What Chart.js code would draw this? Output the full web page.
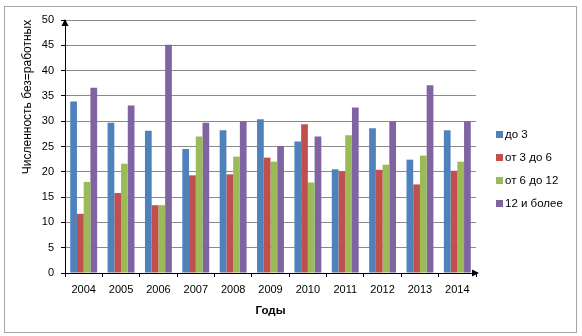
<!DOCTYPE html>
<html><head><meta charset="utf-8">
<script src="https://cdn.jsdelivr.net/npm/chart.js@4/dist/chart.umd.min.js"></script>
<style>
html,body{margin:0;padding:0;background:#fff;}
#wrap{position:relative;width:582px;height:336px;overflow:hidden;}
#frame{position:absolute;left:4px;top:6px;width:573px;height:327px;border:1px solid #a6a6a6;box-sizing:border-box;}
canvas{position:absolute;left:0;top:0;}
#ytitle{position:absolute;left:-73px;top:90px;width:200px;height:14px;line-height:14px;text-align:center;transform:rotate(-90deg);font:12px 'Liberation Sans',Arial,sans-serif;color:#000;white-space:nowrap;}
#legend{position:absolute;left:496px;top:127px;font:11.5px 'Liberation Sans',Arial,sans-serif;color:#000;}
#legend div{height:23px;line-height:14px;white-space:nowrap;}
#legend span.sw{display:inline-block;width:7px;height:7px;margin-right:2px;vertical-align:0px;}
</style>
</head><body>
<div id="wrap">
<div id="frame"></div>
<canvas id="c" width="582" height="336"></canvas>
<div id="ytitle">Численность без=работных</div>
<div id="legend"></div>
</div>
<script>
const years = ['2004','2005','2006','2007','2008','2009','2010','2011','2012','2013','2014'];
const seriesNames = ['до 3','от 3 до 6','от 6 до 12','12 и более'];
const do3    = [33.9,29.7,28.1,24.5,28.2,30.4,26.0,20.5,28.6,22.4,28.2];
const ot3do6 = [11.7,15.8,13.4,19.3,19.5,22.8,29.4,20.1,20.4,17.5,20.2];
const ot6do12= [18.0,21.6,13.4,27.0,23.0,22.0,17.9,27.2,21.4,23.2,22.0];
const ot12   = [36.6,33.1,45.1,29.7,30.0,25.1,27.0,32.7,30.0,37.1,30.0];
const yMin = 0, yMax = 50, yStep = 5;
const xTitle = 'Годы';
const colors = ['#4F81BD','#C0504D','#9BBB59','#8064A2'];
const seriesValues = [do3, ot3do6, ot6do12, ot12];

const font = {family:"'Liberation Sans', Arial, sans-serif", size:11};

const arrows = {
  id:'arrows',
  afterDraw(chart){
    const {ctx, chartArea:a} = chart;
    ctx.save();
    ctx.fillStyle = '#000';
    ctx.beginPath();
    ctx.moveTo(a.left, a.top - 1);
    ctx.lineTo(a.left - 3.5, a.top + 6);
    ctx.lineTo(a.left + 3.5, a.top + 6);
    ctx.closePath(); ctx.fill();
    ctx.beginPath();
    ctx.moveTo(a.right + 3, a.bottom);
    ctx.lineTo(a.right - 4, a.bottom - 3.5);
    ctx.lineTo(a.right - 4, a.bottom + 3.5);
    ctx.closePath(); ctx.fill();
    ctx.restore();
  }
};

new Chart(document.getElementById('c'), {
  type:'bar',
  data:{
    labels: years,
    datasets: seriesNames.map((n,i)=>({label:n, data:seriesValues[i], backgroundColor:colors[i], borderWidth:0,
      categoryPercentage:0.72, barPercentage:1.0}))
  },
  options:{
    responsive:false, animation:false, devicePixelRatio:1,
    layout:{padding:{left:0,right:106,top:20,bottom:0}},
    plugins:{legend:{display:false}, tooltip:{enabled:false}},
    scales:{
      x:{
        grid:{display:true, drawOnChartArea:false, offset:true, tickLength:4, tickColor:'#000'},
        border:{color:'#000', width:1},
        ticks:{font, color:'#000', padding:6, maxRotation:0},
        title:{display:true, text:xTitle, color:'#000', font:{family:font.family, size:11.5, weight:'bold'}, padding:{top:2,bottom:18}},
        afterFit(s){ s.height = 63; }
      },
      y:{
        min:yMin, max:yMax,
        ticks:{stepSize:yStep, font, color:'#000', padding:7},
        grid:{color:'#8a8a8a', tickColor:'#000', tickLength:4},
        border:{color:'#000', width:1},
        afterFit(s){ s.width = 65; }
      }
    }
  },
  plugins:[arrows]
});

const lg = document.getElementById('legend');
seriesNames.forEach((n,i)=>{
  const d = document.createElement('div');
  d.innerHTML = '<span class="sw" style="background:'+colors[i]+'"></span>'+n;
  lg.appendChild(d);
});
</script>
</body></html>
